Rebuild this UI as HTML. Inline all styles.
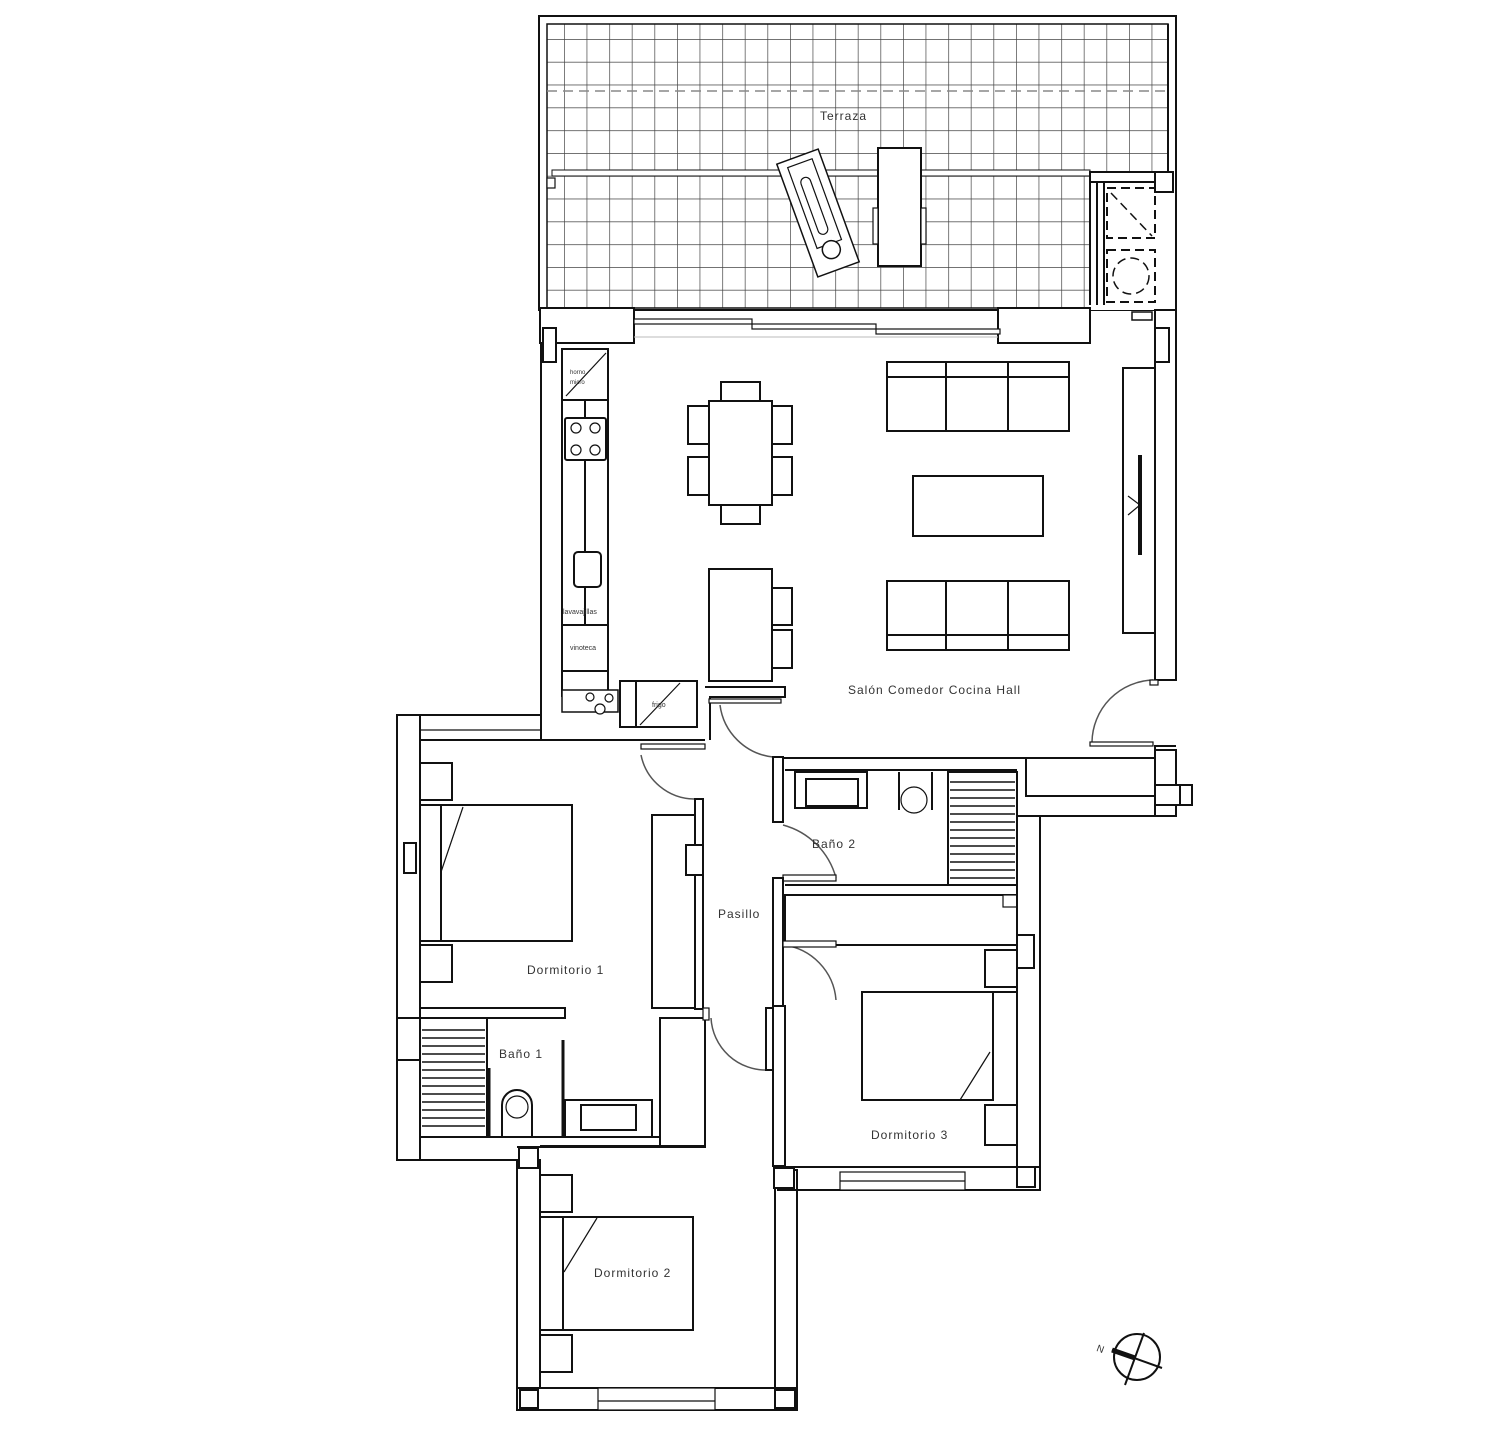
<!DOCTYPE html>
<html><head><meta charset="utf-8"><style>
html,body{margin:0;padding:0;background:#fff;}
svg{display:block;}
text{font-family:"Liberation Sans",sans-serif;font-size:12px;fill:#333;stroke:none;letter-spacing:1px;}
</style></head><body>
<svg width="1508" height="1440" viewBox="0 0 1508 1440" xmlns="http://www.w3.org/2000/svg">
<defs>
<pattern id="g" x="790" y="153" width="22.6" height="22.8" patternUnits="userSpaceOnUse">
<path d="M0 0V22.8M0 0H22.6" stroke="#444" stroke-width="1.4" fill="none"/>
</pattern>
</defs>
<g fill="#fff" stroke="#111" stroke-width="2">
<!-- TERRACE -->
<rect x="539" y="16" width="637" height="294" fill="#fff"/>
<rect x="547" y="24" width="621" height="284" fill="url(#g)" stroke="#111" stroke-width="1.5"/>
<rect x="1090" y="172" width="80" height="138" fill="#fff" stroke="none"/>
<line x1="547" y1="91" x2="1168" y2="91" stroke="#888" stroke-width="1.5" stroke-dasharray="10,6"/>
<rect x="552" y="170" width="538" height="6" stroke-width="1"/>
<rect x="547" y="178" width="8" height="10" stroke-width="1.2"/>
<line x1="1168" y1="24" x2="1168" y2="172"/>
<rect x="1090" y="172" width="65" height="10"/>
<rect x="1155" y="172" width="18" height="20"/>
<line x1="1090" y1="176" x2="1090" y2="305"/>
<line x1="1097" y1="182" x2="1097" y2="305"/>
<line x1="1104" y1="182" x2="1104" y2="305"/>
<g stroke-dasharray="9,5" stroke-width="2">
<rect x="1107" y="188" width="48" height="50" fill="none"/>
<rect x="1107" y="250" width="48" height="52" fill="none"/>
<line x1="1111" y1="193" x2="1152" y2="236" stroke-width="1.5"/>
<circle cx="1131" cy="276" r="18" fill="none" stroke-width="1.5"/>
</g>
<rect x="1132" y="312" width="20" height="8" stroke-width="1.5"/>
<!-- lounger & table -->
<g transform="rotate(-20 818 213)">
<rect x="796" y="153" width="44" height="120" stroke-width="1.5"/>
<rect x="805" y="160" width="26" height="86" stroke-width="1.2"/>
<circle cx="818" cy="252" r="9" stroke-width="1.5"/>
<rect x="812" y="175" width="10" height="60" rx="5" stroke-width="1.2"/>
</g>
<rect x="878" y="148" width="43" height="118"/>
<rect x="873" y="208" width="5" height="36" stroke-width="1.2"/>
<rect x="921" y="208" width="5" height="36" stroke-width="1.2"/>
<!-- sliding door wall -->
<rect x="540" y="308" width="94" height="35"/>
<rect x="998" y="308" width="92" height="35"/>
<rect x="634" y="319" width="118" height="5" stroke-width="1.2"/>
<rect x="752" y="324" width="124" height="5" stroke-width="1.2"/>
<rect x="876" y="329" width="124" height="5" stroke-width="1.2"/>
<line x1="634" y1="337" x2="998" y2="337" stroke="#bbb" stroke-width="1"/>
<!-- LIVING ROOM -->
<line x1="541" y1="343" x2="541" y2="740"/>
<rect x="543" y="328" width="13" height="34"/>
<line x1="561" y1="343" x2="607" y2="343"/>
<line x1="1155" y1="343" x2="1155" y2="680"/>
<rect x="1155" y="310" width="21" height="370"/>
<rect x="1155" y="328" width="14" height="34"/>
<rect x="1123" y="368" width="32" height="265"/>
<line x1="1140" y1="455" x2="1140" y2="555" stroke-width="4"/>
<path d="M1128 496 L1140 505 L1128 515" fill="none" stroke-width="1.2"/>
<!-- kitchen -->
<rect x="562" y="349" width="46" height="347"/>
<line x1="562" y1="400" x2="608" y2="400"/>
<line x1="566" y1="396" x2="606" y2="353" stroke-width="1.2"/>
<line x1="585" y1="400" x2="585" y2="625"/>
<rect x="565" y="418" width="41" height="42" rx="2"/>
<circle cx="576" cy="428" r="5" stroke-width="1.2"/><circle cx="595" cy="428" r="5" stroke-width="1.2"/>
<circle cx="576" cy="450" r="5" stroke-width="1.2"/><circle cx="595" cy="450" r="5" stroke-width="1.2"/>
<rect x="574" y="552" width="27" height="35" rx="4"/>
<line x1="562" y1="625" x2="608" y2="625"/>
<line x1="562" y1="671" x2="608" y2="671"/>
<rect x="562" y="690" width="56" height="22" stroke-width="1.5"/>
<circle cx="590" cy="697" r="4" stroke-width="1.2"/><circle cx="600" cy="709" r="5" stroke-width="1.2"/><circle cx="609" cy="698" r="4" stroke-width="1.2"/>
<rect x="620" y="681" width="77" height="46"/>
<line x1="636" y1="681" x2="636" y2="727"/>
<line x1="640" y1="725" x2="680" y2="683" stroke-width="1.2"/>
<line x1="541" y1="740" x2="705" y2="740"/>
<path d="M705 687 H785 V697 H710 V740" fill="none"/>
<!-- dining -->
<rect x="709" y="401" width="63" height="104"/>
<rect x="721" y="382" width="39" height="19"/><rect x="721" y="505" width="39" height="19"/>
<rect x="688" y="406" width="21" height="38"/><rect x="688" y="457" width="21" height="38"/>
<rect x="772" y="406" width="20" height="38"/><rect x="772" y="457" width="20" height="38"/>
<rect x="709" y="569" width="63" height="112"/>
<rect x="772" y="588" width="20" height="37"/><rect x="772" y="630" width="20" height="38"/>
<!-- sofas -->
<rect x="887" y="362" width="182" height="69"/><line x1="887" y1="377" x2="1069" y2="377"/>
<line x1="946" y1="362" x2="946" y2="431"/><line x1="1008" y1="362" x2="1008" y2="431"/>
<rect x="913" y="476" width="130" height="60"/>
<rect x="887" y="581" width="182" height="69"/><line x1="887" y1="635" x2="1069" y2="635"/>
<line x1="946" y1="581" x2="946" y2="650"/><line x1="1008" y1="581" x2="1008" y2="650"/>
<!-- right door -->
<path d="M1153 680 A63 63 0 0 0 1092 742" fill="none" stroke="#555" stroke-width="1.5"/>
<rect x="1150" y="680" width="8" height="5" stroke-width="1.2"/>
<rect x="1090" y="742" width="63" height="4" stroke-width="1.2"/>
<!-- entrance door pasillo -->
<path d="M720 705 A60 60 0 0 0 773 757" fill="none" stroke="#555" stroke-width="1.5"/>
<rect x="709" y="699" width="72" height="4" stroke-width="1.2"/>
<!-- Wall between living and bath2 -->
<path d="M783 758 H1155 V746 H1176" fill="none"/>
<rect x="1155" y="750" width="21" height="66"/>
<rect x="1155" y="785" width="25" height="20"/><rect x="1180" y="785" width="12" height="20"/>
<rect x="1026" y="758" width="129" height="38"/>
<path d="M1040 816 H1176" fill="none"/>
<!-- DORM 1 -->
<rect x="397" y="715" width="23" height="445"/>
<rect x="404" y="843" width="12" height="30"/>
<rect x="420" y="715" width="121" height="25"/>
<line x1="420" y1="730" x2="541" y2="730" stroke-width="1.2"/>
<path d="M397 1160 H517" fill="none"/>
<rect x="420" y="763" width="32" height="37"/>
<rect x="420" y="805" width="152" height="136"/><line x1="441" y1="805" x2="441" y2="941"/>
<line x1="441" y1="872" x2="463" y2="807" stroke-width="1.2"/>
<rect x="420" y="945" width="32" height="37"/>
<rect x="652" y="815" width="43" height="193"/>
<rect x="695" y="799" width="8" height="210"/>
<rect x="686" y="845" width="17" height="30"/>
<path d="M641 755 A55 55 0 0 0 694 799" fill="none" stroke="#555" stroke-width="1.5"/>
<rect x="641" y="744" width="64" height="5" stroke-width="1.2"/>
<rect x="420" y="1008" width="145" height="10"/>
<!-- BANO 1 -->
<rect x="397" y="1018" width="23" height="42"/>
<rect x="420" y="1018" width="67" height="119"/>
<g stroke-width="1.5">
<line x1="422" y1="1030" x2="485" y2="1030"/><line x1="422" y1="1038" x2="485" y2="1038"/><line x1="422" y1="1046" x2="485" y2="1046"/><line x1="422" y1="1054" x2="485" y2="1054"/><line x1="422" y1="1062" x2="485" y2="1062"/><line x1="422" y1="1070" x2="485" y2="1070"/><line x1="422" y1="1078" x2="485" y2="1078"/><line x1="422" y1="1086" x2="485" y2="1086"/><line x1="422" y1="1094" x2="485" y2="1094"/><line x1="422" y1="1102" x2="485" y2="1102"/><line x1="422" y1="1110" x2="485" y2="1110"/><line x1="422" y1="1118" x2="485" y2="1118"/><line x1="422" y1="1126" x2="485" y2="1126"/>
</g>
<line x1="489" y1="1068" x2="489" y2="1137" stroke-width="3"/>
<path d="M502 1137 V1105 A15 15 0 0 1 532 1105 V1137" fill="none"/>
<circle cx="517" cy="1107" r="11" stroke-width="1.2"/>
<line x1="563" y1="1040" x2="563" y2="1137" stroke-width="3"/>
<path d="M565 1100 H652 V1137 H565 Z"/>
<rect x="581" y="1105" width="55" height="25"/>
<path d="M420 1137 H660 V1147 H517" fill="none"/>
<rect x="660" y="1128" width="13" height="14" stroke-width="1.5"/>
<rect x="660" y="1018" width="45" height="129"/>
<!-- PASILLO / BANO 2 -->
<rect x="773" y="757" width="10" height="65"/>
<path d="M783 825 A75 75 0 0 1 836 878" fill="none" stroke="#555" stroke-width="1.5"/>
<rect x="783" y="875" width="53" height="6" stroke-width="1.2"/>
<rect x="773" y="878" width="10" height="128"/>
<line x1="785" y1="770" x2="1017" y2="770"/>
<rect x="795" y="772" width="72" height="36"/><rect x="806" y="779" width="52" height="27"/>
<path d="M899 772 V810 M932 772 V810" fill="none"/>
<circle cx="914" cy="800" r="13" stroke-width="1.2"/>
<rect x="948" y="772" width="69" height="113"/>
<g stroke-width="1.5">
<line x1="950" y1="782" x2="1015" y2="782"/><line x1="950" y1="790" x2="1015" y2="790"/><line x1="950" y1="798" x2="1015" y2="798"/><line x1="950" y1="806" x2="1015" y2="806"/><line x1="950" y1="814" x2="1015" y2="814"/><line x1="950" y1="822" x2="1015" y2="822"/><line x1="950" y1="830" x2="1015" y2="830"/><line x1="950" y1="838" x2="1015" y2="838"/><line x1="950" y1="846" x2="1015" y2="846"/><line x1="950" y1="854" x2="1015" y2="854"/><line x1="950" y1="862" x2="1015" y2="862"/><line x1="950" y1="870" x2="1015" y2="870"/><line x1="950" y1="878" x2="1015" y2="878"/>
</g>
<line x1="785" y1="885" x2="1017" y2="885"/>
<rect x="785" y="895" width="232" height="50"/>
<rect x="1003" y="895" width="14" height="12" stroke-width="1.2"/>
<path d="M783 945 A60 60 0 0 1 836 1000" fill="none" stroke="#555" stroke-width="1.5"/>
<rect x="783" y="941" width="53" height="6" stroke-width="1.2"/>
<path d="M711 1018 A55 55 0 0 0 768 1070" fill="none" stroke="#555" stroke-width="1.5"/>
<rect x="766" y="1008" width="8" height="62"/>
<rect x="703" y="1008" width="6" height="12" stroke-width="1.2"/>
<!-- DORM 3 -->
<rect x="773" y="1006" width="12" height="160"/>
<rect x="1017" y="816" width="23" height="374" fill="none"/>
<rect x="1017" y="935" width="17" height="33"/>
<rect x="985" y="950" width="32" height="37"/>
<rect x="862" y="992" width="131" height="108"/><line x1="993" y1="992" x2="1017" y2="992"/>
<line x1="993" y1="992" x2="993" y2="1100"/>
<line x1="960" y1="1100" x2="990" y2="1052" stroke-width="1.2"/>
<rect x="985" y="1105" width="32" height="40"/>
<rect x="778" y="1167" width="262" height="23"/>
<rect x="778" y="1167" width="12" height="20"/><rect x="1017" y="1167" width="18" height="20"/>
<rect x="840" y="1172" width="125" height="18" stroke-width="1.2"/>
<line x1="840" y1="1181" x2="965" y2="1181" stroke-width="1.2"/>
<!-- DORM 2 -->
<rect x="517" y="1160" width="23" height="250" fill="none"/>
<rect x="519" y="1148" width="19" height="20"/>
<line x1="540" y1="1146" x2="705" y2="1146"/>
<rect x="775" y="1170" width="22" height="240" fill="none"/>
<rect x="774" y="1168" width="20" height="20"/>
<rect x="540" y="1175" width="32" height="37"/>
<rect x="540" y="1217" width="153" height="113"/><line x1="563" y1="1217" x2="563" y2="1330"/>
<line x1="564" y1="1272" x2="597" y2="1218" stroke-width="1.2"/>
<rect x="540" y="1335" width="32" height="37"/>
<rect x="517" y="1388" width="280" height="22"/>
<rect x="520" y="1390" width="18" height="18"/><rect x="775" y="1390" width="20" height="18"/>
<rect x="598" y="1388" width="117" height="22" stroke-width="1.2"/>
<line x1="598" y1="1401" x2="715" y2="1401" stroke-width="1.2"/>
<!-- compass -->
<circle cx="1137" cy="1357" r="23" fill="none"/>
<line x1="1144" y1="1333" x2="1125" y2="1385"/>
<line x1="1112" y1="1350" x2="1162" y2="1368"/>
<line x1="1112" y1="1350" x2="1135" y2="1358" stroke-width="5"/>
</g>
<text x="570" y="374" style="font-size:6px;letter-spacing:0">horno</text>
<text x="570" y="384" style="font-size:6px;letter-spacing:0">micro</text>
<text x="563" y="614" style="font-size:7px;letter-spacing:0">lavavajillas</text>
<text x="570" y="650" style="font-size:7px;letter-spacing:0">vinoteca</text>
<text x="652" y="707" style="font-size:7px;letter-spacing:0">frigo</text>
<text x="1097" y="1352" style="font-size:10px" transform="rotate(20 1100 1348)">N</text>
<text x="820" y="120">Terraza</text>
<text x="848" y="694">Salón Comedor Cocina Hall</text>
<text x="812" y="848">Baño 2</text>
<text x="718" y="918">Pasillo</text>
<text x="527" y="974">Dormitorio 1</text>
<text x="499" y="1058">Baño 1</text>
<text x="871" y="1139">Dormitorio 3</text>
<text x="594" y="1277">Dormitorio 2</text>
</svg>
</body></html>
